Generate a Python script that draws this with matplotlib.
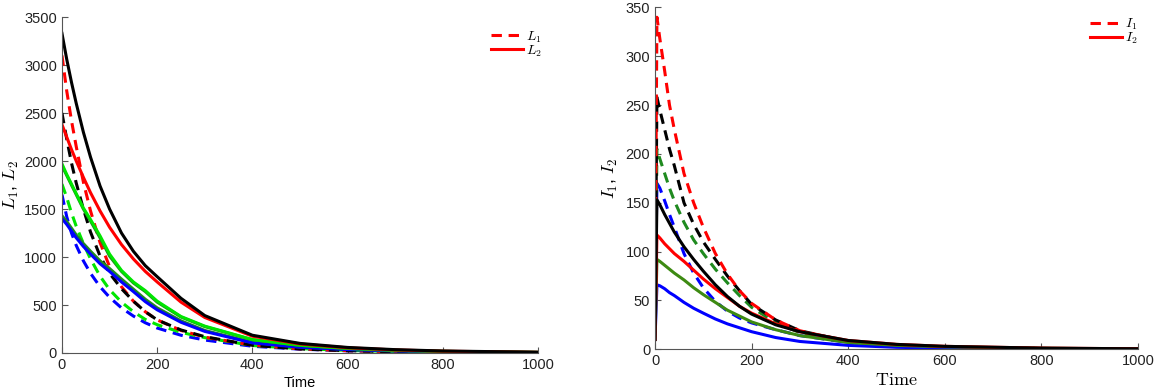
import matplotlib
matplotlib.use("Agg")
import matplotlib.pyplot as plt

plt.rcParams['mathtext.fontset'] = 'cm'
plt.rcParams['font.family'] = ['Liberation Sans', 'DejaVu Sans']

# left panel: L1 (dashed), L2 (solid)
tL = [0, 10, 20, 30, 45, 60, 80, 100, 125, 150, 175, 200, 250, 300, 400, 500, 600, 700, 800, 1000]

L1_red = [3100, 2730, 2420, 2150, 1780, 1480, 1150, 900, 690, 540, 430, 345, 235, 165, 82, 43, 24, 14, 9, 4]
L1_black = [2500, 2230, 1980, 1770, 1500, 1260, 1010, 830, 670, 540, 430, 345, 240, 170, 80, 42, 24, 14, 9, 4]
L1_lime = [1760, 1620, 1460, 1320, 1140, 980, 800, 660, 530, 430, 350, 295, 215, 160, 78, 46, 27, 16, 10, 4]
L1_blue = [1650, 1420, 1250, 1120, 960, 830, 690, 580, 470, 385, 315, 260, 185, 135, 70, 40, 23, 13, 8, 3]

L2_black = [3330, 3060, 2820, 2600, 2300, 2040, 1740, 1500, 1250, 1060, 910, 795, 570, 390, 185, 100, 58, 35, 21, 8]
L2_red = [2380, 2250, 2120, 2000, 1830, 1670, 1480, 1310, 1130, 980, 850, 740, 530, 370, 175, 94, 54, 32, 19, 7]
L2_lime = [1970, 1860, 1760, 1660, 1510, 1390, 1220, 1030, 860, 740, 650, 540, 380, 280, 140, 80, 48, 28, 17, 6]
L2_dkgreen_a = [1950, 1850, 1750, 1650, 1500, 1375, 1200, 1010, 850, 730, 640, 530, 375, 275, 138, 79, 47, 28, 17, 6]
L2_dkgreen_b = [1430, 1370, 1300, 1230, 1140, 1060, 960, 880, 770, 665, 560, 470, 335, 235, 110, 63, 38, 23, 14, 5]
L2_blue = [1400, 1340, 1270, 1200, 1110, 1030, 930, 850, 740, 640, 535, 450, 320, 225, 105, 60, 36, 22, 13, 5]

# right panel: I1 (dashed), I2 (solid)
tI = [0, 4, 10, 20, 30, 40, 60, 80, 100, 125, 150, 175, 200, 250, 300, 400, 500, 600, 800, 1000]

I1_red = [40, 340, 318, 285, 250, 225, 180, 150, 125, 98, 77, 60, 47, 30, 19, 8, 4, 2, 0.8, 0.4]
I1_black = [30, 258, 245, 225, 205, 188, 150, 128, 110, 92, 75, 60, 46, 30, 19, 8, 4, 2, 0.8, 0.4]
I1_green = [20, 205, 195, 180, 165, 152, 130, 112, 98, 82, 68, 55, 43, 27, 17, 7, 3.5, 2, 0.8, 0.4]
I1_blue = [30, 170, 165, 152, 138, 125, 98, 78, 63, 49, 39, 32, 27, 20, 14, 7, 3.5, 2, 0.8, 0.3]

I2_black = [10, 153, 148, 138, 129, 120, 105, 92, 80, 66, 54, 44, 36, 25, 18, 9, 5, 3, 1.2, 0.5]
I2_red = [10, 117, 114, 108, 103, 98, 90, 81, 72, 62, 53, 44, 37, 26, 18, 9, 5, 3, 1.2, 0.5]
I2_green = [10, 92, 90, 86, 82, 78, 71, 63, 56, 48, 40, 34, 28, 20, 14, 7, 4, 2.5, 1, 0.4]
I2_blue = [10, 66, 65, 62, 58, 55, 48, 42, 37, 31, 26, 22, 18, 12, 8, 4, 2, 1.2, 0.5, 0.2]

RED = '#ff0000'
BLUE = '#0000ff'
LIME = '#00e600'
DKGREEN = '#1f8a1f'
OLIVE = '#3d8a12'
LW = 2.2
DASH = (0, (3.4, 2.2))


def style_axes(ax):
    for s in ['top', 'right']:
        ax.spines[s].set_visible(False)
    for s in ['left', 'bottom']:
        ax.spines[s].set_color('#555555')
        ax.spines[s].set_linewidth(0.8)
    ax.tick_params(direction='in', length=4, width=0.8, colors='#555555',
                   labelcolor='#222222', labelsize=10.5)


fig = plt.figure(figsize=(11.54, 3.92), dpi=100)

ax1 = fig.add_axes([0.0537, 0.0995, 0.4125, 0.857])
ax1.plot(tL, L1_blue, ls=DASH, color=BLUE, lw=LW)
ax1.plot(tL, L1_lime, ls=DASH, color=LIME, lw=LW)
ax1.plot(tL, L1_red, ls=DASH, color=RED, lw=LW, label='$L_1$')
ax1.plot(tL, L1_black, ls=DASH, color='k', lw=LW)
ax1.plot(tL, L2_dkgreen_b, '-', color=DKGREEN, lw=LW)
ax1.plot(tL, L2_blue, '-', color=BLUE, lw=LW)
ax1.plot(tL, L2_dkgreen_a, '-', color=DKGREEN, lw=LW)
ax1.plot(tL, L2_lime, '-', color=LIME, lw=LW)
ax1.plot(tL, L2_red, '-', color=RED, lw=LW, label='$L_2$')
ax1.plot(tL, L2_black, '-', color='k', lw=LW)
ax1.set_xlim(0, 1000)
ax1.set_ylim(0, 3500)
ax1.set_xticks([0, 200, 400, 600, 800, 1000])
ax1.set_yticks(range(0, 3501, 500))
style_axes(ax1)
ax1.set_xlabel('Time', fontsize=10.5, labelpad=3)
ax1.set_ylabel('$L_1$, $L_2$', fontsize=13, labelpad=2)
h, l = ax1.get_legend_handles_labels()
ax1.legend(h, l, loc='upper right', bbox_to_anchor=(1.02, 0.98), frameon=False,
           fontsize=10, handlelength=2.3, handletextpad=0.2, labelspacing=-0.1,
           borderaxespad=0)

ax2 = fig.add_axes([0.5676, 0.109, 0.4185, 0.872])
ax2.plot(tI, I1_blue, ls=DASH, color=BLUE, lw=LW)
ax2.plot(tI, I1_green, ls=DASH, color=DKGREEN, lw=LW)
ax2.plot(tI, I1_black, ls=DASH, color='k', lw=LW)
ax2.plot(tI, I1_red, ls=DASH, color=RED, lw=LW, label='$I_1$')
ax2.plot(tI, I2_blue, '-', color=BLUE, lw=LW)
ax2.plot(tI, I2_green, '-', color=OLIVE, lw=LW)
ax2.plot(tI, I2_red, '-', color=RED, lw=LW, label='$I_2$')
ax2.plot(tI, I2_black, '-', color='k', lw=LW)
ax2.set_xlim(0, 1000)
ax2.set_ylim(0, 350)
ax2.set_xticks([0, 200, 400, 600, 800, 1000])
ax2.set_yticks(range(0, 351, 50))
style_axes(ax2)
ax2.set_xlabel(r'$\mathrm{Time}$', fontsize=13, labelpad=3)
ax2.set_ylabel('$I_1$, $I_2$', fontsize=13, labelpad=4)
h, l = ax2.get_legend_handles_labels()
ax2.legend(h, l, loc='upper right', bbox_to_anchor=(1.01, 0.99), frameon=False,
           fontsize=10, handlelength=2.3, handletextpad=0.2, labelspacing=-0.1,
           borderaxespad=0)

fig.savefig('out.png', dpi=100)
